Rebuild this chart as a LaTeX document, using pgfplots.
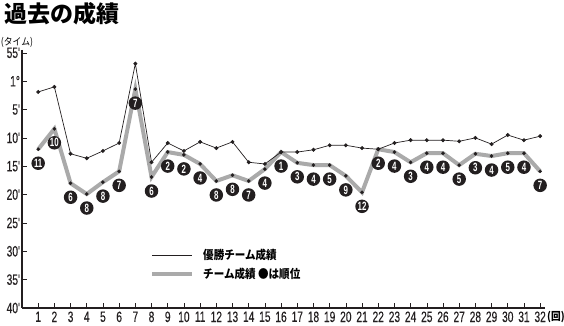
\documentclass[border=0pt]{standalone}
\usepackage{pgfplots}
\pgfplotsset{compat=1.18}
\usepackage{pgfplotstable}
\usepackage{fontspec}
\setmainfont{Liberation Sans}
\newfontfamily\cond[FakeStretch=0.66]{Liberation Sans}
\newfontfamily\condt[FakeStretch=0.68,FakeBold=0.3]{Liberation Sans}
\newfontfamily\jp{Noto Sans CJK JP}
\newfontfamily\jpc[FakeStretch=0.88]{Noto Sans CJK JP}
\definecolor{teamgray}{RGB}{170,170,170}
\definecolor{ink}{RGB}{35,31,32}

\pgfplotstableread{
n win team rank
1 61.9 72.0 11
2 61.0 68.4 10
3 72.8 78.0 6
4 73.6 79.9 8
5 72.3 77.8 8
6 70.9 75.9 7
7 56.9 61.4 7
8 74.3 76.9 6
9 70.9 72.5 2
10 72.3 73.0 2
11 70.7 74.6 4
12 71.8 77.6 8
13 70.7 76.6 8
14 74.3 77.6 7
15 74.6 75.5 4
16 72.5 72.5 1
17 72.5 74.4 3
18 72.1 74.8 4
19 71.3 74.8 5
20 71.3 76.7 9
21 71.8 79.6 12
22 72.0 72.0 2
23 70.9 72.5 4
24 70.4 74.3 3
25 70.4 72.7 4
26 70.4 72.7 4
27 70.6 74.8 5
28 70.0 72.8 3
29 71.1 73.2 4
30 69.5 72.7 5
31 70.4 72.7 4
32 69.7 75.9 7
}\data

\begin{document}
\begin{tikzpicture}
\useasboundingbox (-22pt,-18pt) rectangle (542pt,308pt);
\begin{axis}[at={(0pt,0pt)}, anchor=south west, scale only axis,
  width=523pt, height=258pt,
  xmin=0, xmax=32.3, ymin=54.5, ymax=100, y dir=reverse,
  axis x line=bottom, axis y line=left,
  axis line style={-, line width=1.3pt, ink},
  xtick={1,...,32}, ytick={55,60,...,100},
  yticklabels={55',1°,5',10',15',20',25',30',35',40'},
  tick align=inside, major tick length=5pt,
  tick style={ink, line width=0.6pt},
  tick label style={font=\condt\fontsize{15}{15}\selectfont, text=ink},
  yticklabel style={xshift=1.5pt},
  xticklabel style={yshift=0pt},
  /pgf/number format/assume math mode=true,
  clip=false,
  legend style={at={(axis cs:7.72,88.9)}, anchor=north west, draw=none, fill=none,
    font=\jpc\bfseries\fontsize{12}{12}\selectfont, row sep=3pt, column sep=7pt,
    cells={anchor=west}},
  reverse legend,
  legend image code/.code={\draw[#1] (0pt,0pt) -- (40pt,0pt);},
]
\addplot[teamgray, line width=4pt, line join=miter, no markers] table[x=n,y=team]{\data};
\addlegendentry{チーム成績 ●は順位}
\addplot[ink, line width=0.7pt, mark=*, mark size=1.6pt, mark options={fill=ink}] table[x=n,y=win]{\data};
\addlegendentry{優勝チーム成績}
\addplot[forget plot, only marks, mark=*, mark size=1.6pt, ink] table[x=n,y=team]{\data};
\addplot[forget plot, only marks, mark=none, point meta=explicit symbolic, nodes near coords,
  nodes near coords style={circle, fill=ink, text=white, inner sep=0pt, minimum size=13.5pt,
    anchor=center, yshift=-14pt, font=\cond\bfseries\fontsize{12}{12}\selectfont}]
  table[x=n,y=team,meta=rank]{\data};
\end{axis}
\node[anchor=north west, inner sep=0pt, font=\jp\bfseries\fontsize{23}{23}\selectfont] at (-18pt,306pt) {過去の成績};
\node[anchor=south, inner sep=0pt, font=\jpc\fontsize{10}{10}\selectfont] at (-5pt,260pt) {(タイム)};
\node[anchor=west, inner sep=0pt, font=\jpc\bfseries\fontsize{11}{11}\selectfont] at (525pt,-9pt) {(回)};
\end{tikzpicture}
\end{document}
